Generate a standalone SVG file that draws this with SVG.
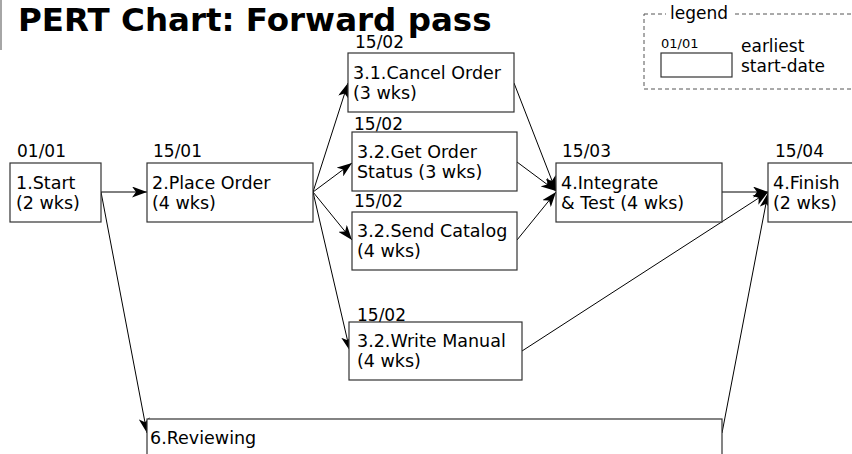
<svg xmlns="http://www.w3.org/2000/svg" width="852" height="454" viewBox="0 0 852 454">
<style>
text{font-family:"DejaVu Sans","Liberation Sans",sans-serif;fill:#000}
.t{font-size:17.5px}
.d{font-size:17px}
.box{fill:#fff;stroke:#333;stroke-width:1.2}
.c{stroke:#000;stroke-width:1;fill:none;marker-end:url(#ah)}
</style>
<defs>
<marker id="ah" viewBox="0 0 15 11" markerWidth="15" markerHeight="11" refX="15" refY="5.5" orient="auto" markerUnits="userSpaceOnUse">
<path d="M0,0 L15,5.5 L0,11 L4,5.5 z" fill="#000"/>
</marker>
</defs>
<rect width="852" height="454" fill="#fff"/>
<line x1="1" y1="0" x2="1" y2="50" stroke="#888" stroke-width="1.5"/>
<text x="18" y="31" style="font-size:32.5px;font-weight:bold">PERT Chart: Forward pass</text>

<g id="legend">
<rect x="644" y="14" width="220" height="75" fill="none" stroke="#555" stroke-dasharray="4 3"/>
<rect x="666" y="5" width="68" height="16" fill="#fff"/>
<text x="670" y="19" style="font-size:17px">legend</text>
<text x="661" y="48" style="font-size:13px">01/01</text>
<rect x="661" y="53" width="71" height="24" class="box"/>
<text x="741" y="52" class="d">earliest</text>
<text x="741" y="72" class="d">start-date</text>
</g>

<g id="connectors">
<line class="c" x1="101" y1="192" x2="147" y2="192"/>
<line class="c" x1="101" y1="192" x2="147" y2="433"/>
<line class="c" x1="313" y1="192" x2="348" y2="83"/>
<line class="c" x1="313" y1="192" x2="352" y2="163"/>
<line class="c" x1="313" y1="192" x2="352" y2="240"/>
<line class="c" x1="313" y1="192" x2="350" y2="351"/>
<line class="c" x1="514" y1="83" x2="556" y2="191"/>
<line class="c" x1="517" y1="162" x2="556" y2="191"/>
<line class="c" x1="517" y1="240" x2="556" y2="192"/>
<line class="c" x1="722" y1="192" x2="768" y2="192"/>
<line class="c" x1="522" y1="351" x2="768" y2="192"/>
<line class="c" x1="722" y1="433" x2="768" y2="193"/>
</g>

<g id="start">
<text x="17" y="157" class="d">01/01</text>
<rect x="10" y="163" width="91" height="59" class="box"/>
<text x="16" y="189" class="t">1.Start</text>
<text x="16" y="209" class="t">(2 wks)</text>
</g>
<g id="place">
<text x="153" y="157" class="d">15/01</text>
<rect x="147" y="163" width="166" height="59" class="box"/>
<text x="152" y="189" class="t">2.Place Order</text>
<text x="152" y="209" class="t">(4 wks)</text>
</g>
<g id="cancel">
<text x="355" y="48" class="d">15/02</text>
<rect x="348" y="53" width="166" height="59" class="box"/>
<text x="353" y="79" class="t">3.1.Cancel Order</text>
<text x="353" y="99" class="t">(3 wks)</text>
</g>
<g id="status">
<text x="354" y="130" class="d">15/02</text>
<rect x="352" y="132" width="165" height="59" class="box"/>
<text x="357" y="158" class="t">3.2.Get Order</text>
<text x="357" y="178" class="t">Status (3 wks)</text>
</g>
<g id="catalog">
<text x="354" y="207" class="d">15/02</text>
<rect x="352" y="212" width="165" height="58" class="box"/>
<text x="357" y="237" class="t">3.2.Send Catalog</text>
<text x="357" y="257" class="t">(4 wks)</text>
</g>
<g id="manual">
<text x="357" y="321" class="d">15/02</text>
<rect x="349" y="322" width="173" height="58" class="box"/>
<text x="357" y="347" class="t">3.2.Write Manual</text>
<text x="357" y="367" class="t">(4 wks)</text>
</g>
<g id="integrate">
<text x="562" y="157" class="d">15/03</text>
<rect x="556" y="163" width="166" height="59" class="box"/>
<text x="561" y="189" class="t">4.Integrate</text>
<text x="561" y="209" class="t">&amp; Test (4 wks)</text>
</g>
<g id="finish">
<text x="775" y="157" class="d">15/04</text>
<rect x="768" y="163" width="100" height="59" class="box"/>
<text x="773" y="189" class="t">4.Finish</text>
<text x="773" y="209" class="t">(2 wks)</text>
</g>
<g id="reviewing">
<rect x="147" y="419" width="575" height="60" class="box"/>
<text x="150" y="444" class="t">6.Reviewing</text>
</g>
</svg>
